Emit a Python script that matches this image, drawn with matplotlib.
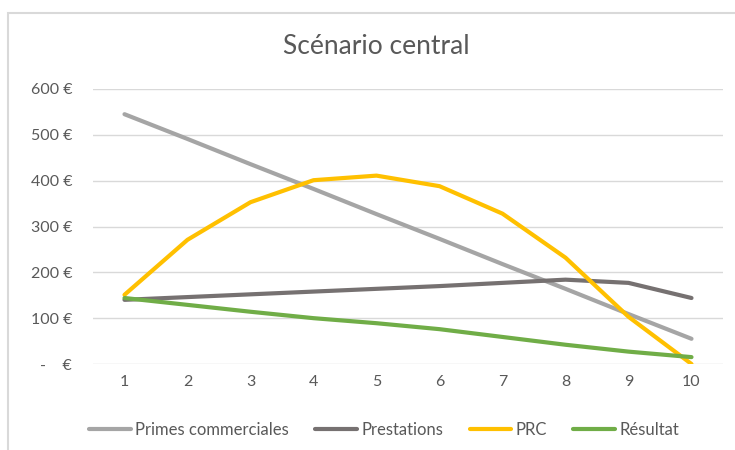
import matplotlib.pyplot as plt
from matplotlib.patches import Rectangle

plt.rcParams['font.family'] = ['Lato', 'DejaVu Sans']

# data
annees = [1, 2, 3, 4, 5, 6, 7, 8, 9, 10]
primes = [545, 491, 436, 382, 327, 273, 218, 164, 109, 55]
prestations = [140, 146, 152, 158, 164, 170, 177, 184, 177, 144]
prc = [151, 271, 353, 401, 411, 388, 328, 232, 103, 0]
resultat = [144, 129, 114, 100, 89, 76, 59, 42, 27, 15]
yticks = [0, 100, 200, 300, 400, 500, 600]

series = [
    ("Primes commerciales", primes, "#A5A5A5"),
    ("Prestations", prestations, "#767171"),
    ("PRC", prc, "#FFC000"),
    ("Résultat", resultat, "#70AD47"),
]

fig = plt.figure(figsize=(7.35, 4.5), dpi=100)
ax = fig.add_axes([93/735, 1 - 364/450, 630/735, 275/450])

for name, vals, col in series:
    ax.plot(annees, vals, color=col, lw=3, solid_capstyle='round',
            solid_joinstyle='round', label=name)

ax.set_xlim(0.5, 10.5)
ax.set_ylim(0, 600)
ax.set_xticks(annees)
ax.set_yticks(yticks)
ax.set_yticklabels([f"{v} €" if v else "-    €" for v in yticks])
ax.grid(axis='y', color='#D9D9D9', lw=1)
ax.set_axisbelow(True)
for s in ax.spines.values():
    s.set_visible(False)
ax.tick_params(length=0, labelsize=11.5, colors='#595959')
ax.tick_params(axis='y', pad=15)
ax.tick_params(axis='x', pad=8)

fig.text(376/735, 1 - 47/450, "Scénario central", ha='center', va='center',
         fontsize=19, color='#595959')

fig.legend(loc='center', bbox_to_anchor=(384/735, 1 - 430/450), ncol=4,
           frameon=False, fontsize=12, handlelength=2.5, handletextpad=0.25,
           columnspacing=1.6, labelcolor='#595959')

# chart border (partly visible)
fig.patches.append(Rectangle((8/735, -0.1), 2, 1 - 13/450 + 0.1,
                             transform=fig.transFigure, fill=False,
                             edgecolor='#D9D9D9', lw=1.5))

fig.savefig("out.png", dpi=100)
